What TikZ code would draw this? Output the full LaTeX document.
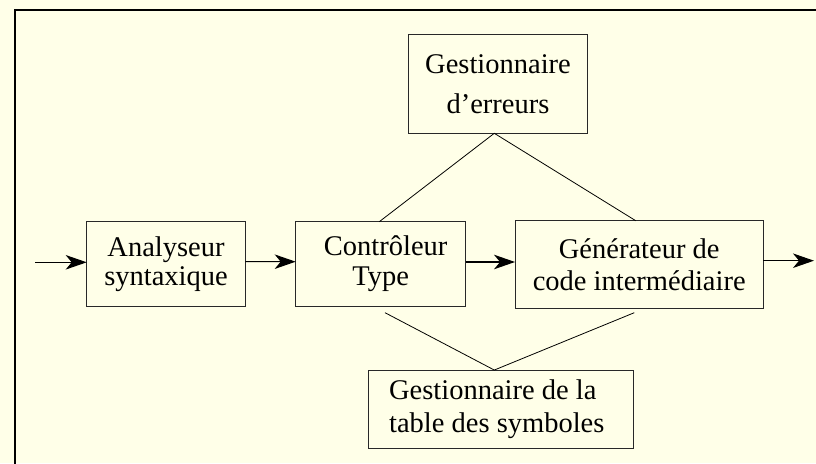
\documentclass[tikz,border=0pt]{standalone}
\usepackage{fontspec}
\setmainfont{Liberation Serif}
\usetikzlibrary{arrows.meta}
\definecolor{bgyellow}{RGB}{255,255,232}
\definecolor{boxline}{RGB}{40,40,40}
\tikzset{
  blk/.style={draw=boxline, line width=0.9pt, inner sep=0pt, outer sep=0pt, align=center},
  lnk/.style={draw=black, line width=0.8pt},
  flow/.style={draw=black, line width=1.1pt, -{Stealth[length=21pt,width=14.5pt,inset=6pt]}},
  txt/.style 2 args={font=\fontsize{#1}{#2}\selectfont}
}
\begin{document}
\begin{tikzpicture}[x=1pt,y=1pt]
\clip (0,0) rectangle (816,463);
\fill[bgyellow] (0,0) rectangle (816,463);
\draw[black, line width=2pt] (14.5,-10) -- (14.5,452.5) -- (830,452.5);

\node[blk, txt={28.5}{29}, minimum width=158.6pt, minimum height=85pt] (ana) at (166,198.8) {Analyseur\\syntaxique};
\node[blk, txt={28.5}{30}, minimum width=170pt, minimum height=84.8pt] (ctl) at (380.7,198.9) {\hspace*{10pt}Contr\^oleur\\Type};
\node[blk, txt={28.5}{32}, minimum width=248.3pt, minimum height=87.6pt] (gen) at (639.2,198.5) {G\'en\'erateur de\\code interm\'ediaire};
\node[blk, txt={28.5}{40}, minimum width=179.4pt, minimum height=99pt] (err) at (498,379.2) {Gestionnaire\\d'erreurs};
\node[blk, txt={28.5}{32.5}, minimum width=265pt, minimum height=78.3pt, align=left] (sym) at (500.8,53.8) {\hspace*{-8pt}Gestionnaire de la\\\hspace*{-8pt}table des symboles};

\coordinate (in) at (35,200.7);
\coordinate (out) at (814,202.3);
\coordinate (errb) at ([xshift=-3.7pt]err.south);
\coordinate (symt) at ([xshift=-6.5pt]sym.north);
\coordinate (ctlb) at ([xshift=4.3pt,yshift=-6.2pt]ctl.south);
\coordinate (genb) at ([xshift=-4.9pt,yshift=-4.4pt]gen.south);

\draw[lnk] ([xshift=-1.4pt]ctl.north) -- (errb) -- ([xshift=-3.5pt]gen.north);
\draw[lnk] (ctlb) -- (symt) -- (genb);

\draw[flow] (in) -- ([yshift=1.9pt]ana.west);
\draw[flow] ([yshift=2.5pt]ana.east) -- ([yshift=2.4pt]ctl.west);
\draw[flow] ([yshift=2.1pt]ctl.east) -- ([yshift=2.5pt]gen.west);
\draw[flow] ([yshift=3.8pt]gen.east) -- (out);
\end{tikzpicture}
\end{document}
